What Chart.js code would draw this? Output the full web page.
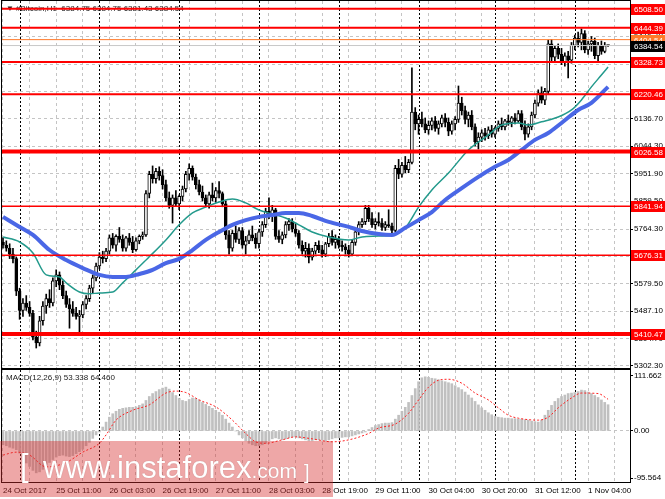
<!DOCTYPE html>
<html>
<head>
<meta charset="utf-8">
<script src="https://cdn.jsdelivr.net/npm/chart.js@4.4.0/dist/chart.umd.min.js"></script>
<style>
  body { margin: 0; background: #fff; width: 665px; height: 499px; overflow: hidden; position: relative; }
  #main { position: absolute; left: 0; top: 0; }
  #macd { position: absolute; left: 0; top: 369px; }
  #wm { position: absolute; left: 0; top: 441px; width: 333px; height: 56px; background: rgba(215, 45, 45, 0.42); }
  #wm span { position: absolute; color: #fff; font-family: 'Liberation Sans', sans-serif; line-height: 1; white-space: nowrap; text-shadow: 0 0 1px rgba(120, 50, 50, 0.45); }
  #wm .w { left: 43px; top: 11px; font-size: 31px; }
  #wm .w small { font-size: 21px; }
  #wm .b1 { left: 20px; top: 9px; font-size: 31px; }
  #wm .b2 { left: 304px; top: 21px; font-size: 20px; }
</style>
</head>
<body>
<canvas id="main" width="665" height="370"></canvas>
<canvas id="macd" width="665" height="130"></canvas>
<div id="wm"><span class="b1">[</span><span class="w">www.instaforex<small>.com</small></span><span class="b2">]</span></div>
<script>
// Bitcoin H1 candles, 24 Oct 2017 19:00 -> 1 Nov 2017
const opens = [
  5720,5710,5700,5680,5665,5555,5490,5515,5500,5480,
  5400,5380,5455,5505,5530,5515,5590,5610,5575,5540,
  5510,5495,5480,5470,5475,5510,5530,5565,5600,5640,
  5670,5665,5690,5735,5710,5740,5730,5700,5735,5720,
  5695,5725,5740,5745,5885,5950,5935,5960,5945,5915,
  5870,5845,5870,5850,5875,5900,5950,5970,5940,5915,
  5890,5870,5850,5880,5870,5895,5885,5850,5745,5700,
  5750,5730,5760,5710,5725,5745,5735,5715,5755,5780,
  5825,5815,5830,5740,5730,5745,5780,5790,5765,5750,
  5710,5690,5700,5670,5690,5710,5695,5680,5715,5740,
  5720,5730,5710,5705,5695,5680,5720,5755,5780,5790,
  5835,5800,5780,5790,5785,5770,5780,5775,5760,5970,
  5950,5980,5965,5990,6160,6120,6135,6120,6100,6115,
  6130,6105,6120,6140,6125,6095,6120,6135,6190,6165,
  6135,6150,6110,6060,6075,6090,6080,6100,6085,6105,
  6120,6110,6130,6125,6140,6130,6155,6110,6085,6110,
  6150,6190,6225,6200,6230,6390,6345,6375,6355,6330,
  6350,6335,6385,6410,6395,6425,6370,6390,6400,6350,
  6385,6365,6384.75
];
const highs = [
  5735,5725,5715,5700,5670,5565,5530,5540,5520,5490,
  5420,5470,5520,5545,5560,5600,5627,5620,5590,5555,
  5530,5520,5500,5490,5520,5540,5575,5610,5650,5685,
  5690,5700,5745,5750,5745,5770,5745,5740,5750,5740,
  5735,5745,5755,5895,5960,5978,5970,5975,5965,5930,
  5890,5880,5895,5880,5910,5960,5985,5978,5950,5930,
  5910,5880,5890,5920,5905,5925,5890,5860,5760,5760,
  5775,5770,5770,5740,5760,5775,5750,5765,5790,5835,
  5870,5845,5835,5760,5755,5790,5800,5800,5785,5760,
  5725,5720,5715,5700,5720,5725,5710,5720,5750,5760,
  5745,5740,5725,5715,5710,5730,5765,5790,5800,5845,
  5845,5820,5800,5820,5800,5790,5830,5785,5980,6000,
  5990,6010,6000,6309,6175,6150,6160,6140,6130,6140,
  6145,6130,6150,6155,6140,6130,6145,6248,6210,6180,
  6160,6165,6120,6090,6100,6105,6110,6115,6110,6130,
  6140,6135,6150,6145,6155,6165,6165,6130,6120,6160,
  6200,6235,6245,6240,6403,6405,6385,6390,6375,6360,
  6365,6395,6420,6430,6441,6435,6400,6415,6410,6395,
  6400,6395,6384.75
];
const lows = [
  5700,5690,5665,5650,5540,5460,5470,5490,5470,5390,
  5363,5370,5440,5480,5500,5505,5570,5560,5530,5500,
  5430,5470,5460,5417,5465,5495,5520,5550,5590,5630,
  5650,5655,5680,5700,5690,5720,5690,5690,5710,5685,
  5690,5715,5730,5740,5870,5920,5920,5930,5900,5860,
  5835,5785,5840,5830,5860,5890,5930,5930,5900,5880,
  5860,5840,5835,5860,5855,5870,5840,5730,5680,5690,
  5720,5715,5700,5680,5715,5725,5700,5700,5740,5770,
  5800,5790,5730,5720,5715,5735,5760,5755,5740,5700,
  5680,5670,5650,5660,5680,5685,5670,5672,5705,5710,
  5700,5700,5690,5680,5670,5675,5710,5745,5770,5780,
  5790,5770,5765,5775,5760,5760,5770,5750,5755,5935,
  5940,5955,5955,5985,6100,6085,6110,6090,6085,6100,
  6095,6085,6110,6110,6080,6085,6100,6125,6150,6120,
  6110,6100,6045,6035,6060,6065,6070,6075,6075,6095,
  6100,6100,6115,6110,6120,6125,6100,6066,6075,6100,
  6140,6180,6190,6185,6220,6330,6330,6340,6320,6315,
  6275,6325,6370,6380,6370,6360,6355,6365,6340,6330,
  6355,6360,6381.43
];
const closes = [
  5710,5700,5680,5665,5555,5490,5515,5500,5480,5400,
  5380,5455,5505,5530,5515,5590,5610,5575,5540,5510,
  5495,5480,5470,5475,5510,5530,5565,5600,5640,5670,
  5665,5690,5735,5710,5740,5730,5700,5735,5720,5695,
  5725,5740,5745,5885,5950,5935,5960,5945,5915,5870,
  5845,5870,5850,5875,5900,5950,5970,5940,5915,5890,
  5870,5850,5880,5870,5895,5885,5850,5745,5700,5750,
  5730,5760,5710,5725,5745,5735,5715,5755,5780,5825,
  5815,5830,5740,5730,5745,5780,5790,5765,5750,5710,
  5690,5700,5670,5690,5710,5695,5680,5715,5740,5720,
  5730,5710,5705,5695,5680,5720,5755,5780,5790,5835,
  5800,5780,5790,5785,5770,5780,5775,5760,5970,5950,
  5980,5965,5990,6160,6120,6135,6120,6100,6115,6130,
  6105,6120,6140,6125,6095,6120,6135,6190,6165,6135,
  6150,6110,6060,6075,6090,6080,6100,6085,6105,6120,
  6110,6130,6125,6140,6130,6155,6110,6085,6110,6150,
  6190,6225,6200,6230,6390,6345,6375,6355,6330,6350,
  6335,6385,6410,6395,6425,6370,6390,6400,6350,6385,
  6365,6384.75,6384.54
];

// moving averages, read at sample candles
const fastMaIdx = [0,5,9,13,17,19,23,26,29,33,36,40,44,49,53,57,61,65,69,73,77,81,85,89,93,98,104,108,113,117,121,125,129,134,140,146,150,155,158,162,167,171,174,177,180,182];
const fastMaVal = [5738,5721,5684,5610,5603,5583,5552,5546,5549,5552,5583,5627,5671,5728,5779,5819,5839,5856,5866,5853,5829,5816,5802,5779,5755,5738,5728,5738,5741,5745,5769,5839,5897,5954,6032,6083,6116,6123,6116,6127,6143,6167,6201,6245,6285,6312];
const slowMaIdx = [0,5,9,14,19,24,29,33,37,41,45,49,53,57,61,65,69,73,77,81,85,89,93,98,104,108,113,117,121,125,129,133,138,143,148,152,156,160,164,168,173,177,182];
const slowMaVal = [5806,5772,5745,5694,5660,5633,5610,5603,5603,5613,5627,5650,5664,5694,5728,5755,5779,5795,5806,5812,5819,5819,5809,5789,5772,5758,5748,5745,5769,5795,5822,5863,5903,5941,5975,5998,6032,6066,6089,6123,6167,6191,6245];

// MACD(12,26,9) main (histogram) per candle and signal line samples
const macdMain = [
  -28,-30,-33,-35,-38,-45,-55,-65,-72,-80,
  -85,-83,-78,-70,-64,-58,-53,-50,-49,-51,
  -52,-50,-46,-42,-37,-30,-23,-15,-8,-2,
  8,18,28,35,40,44,46,47,48,48,
  49,52,55,62,70,76,80,84,87,89,
  85,78,72,66,62,60,64,67,66,63,
  58,54,50,46,42,38,32,24,16,8,
  0,-8,-14,-20,-25,-28,-30,-30,-28,-25,
  -20,-16,-14,-16,-18,-16,-14,-12,-12,-14,
  -16,-18,-20,-20,-18,-18,-19,-20,-18,-16,
  -14,-14,-13,-12,-12,-10,-8,-6,-4,-2,
  3,7,11,13,15,16,16,17,24,32,
  40,48,58,72,86,100,108,110,109,107,
  106,104,102,100,98,96,92,88,84,79,
  73,67,60,53,47,42,37,33,30,28,
  27,26,26,25,25,24,24,23,22,20,
  19,18,22,32,42,52,60,66,70,73,
  76,77,78,80,83,82,79,76,72,68,
  63,58,53.338
];
const signalIdx = [0,4,8,13,19,24,29,31,34,39,44,49,52,55,59,64,69,73,76,79,84,88,93,99,104,110,113,118,122,125,128,131,134,138,142,146,149,152,155,161,164,167,171,174,179,182];
const signalVal = [-49,-43,-49,-73,-64,-43,-25,-8,22,42,53,77,81,78,63,49,22,-5,-22,-25,-18,-12,-16,-22,-18,-5,6,14,36,63,89,103,105,97,77,63,47,32,26,22,28,47,67,77,76,64.46];

// horizontal levels and quotes
const levels = [6508.50, 6444.39, 6328.73, 6220.46, 6026.58, 5841.94, 5676.31, 5410.47];
const levelWidths = [2, 2, 2, 2, 4, 1.5, 1.5, 4];
const askPrice = 6404.54;
const lastPrice = 6384.54;
const priceTicks = [5302.30, 5394.70, 5487.10, 5579.50, 5671.90, 5764.30, 5859.50, 5951.90, 6044.30, 6136.70, 6229.10, 6321.50, 6416.70, 6509.10];
const macdTicks = [111.662, 0, -95.564];
const macdTickText = ['111.662', '0.00', '-95.564'];

// time axis
const gridIdx = [0,8,16,24,32,40,48,56,64,72,80,88,96,104,112,120,128,136,144,152,160,168,176,184];
const timeLabels = ['24 Oct 2017', '25 Oct 11:00', '26 Oct 03:00', '26 Oct 19:00', '27 Oct 11:00', '28 Oct 03:00',
                    '28 Oct 19:00', '29 Oct 11:00', '30 Oct 04:00', '30 Oct 20:00', '31 Oct 12:00', '1 Nov 04:00'];
const daySeps = [5, 29, 53, 77, 101, 125, 148, 172];

const titleText = '#Bitcoin,H1  6384.75 6384.75 6381.43 6384.54';
const macdTitle = 'MACD(12,26,9) 53.338 64.460';

const FONT = "'Liberation Sans', sans-serif";
Chart.defaults.font.family = FONT;
Chart.defaults.font.size = 8;

const idx = closes.map((_, i) => i);
const xMin = -0.3, xMax = 188.6;

function drawDaySeps(chart) {
  const { ctx, chartArea: a, scales: { x } } = chart;
  ctx.save();
  ctx.strokeStyle = '#000';
  ctx.lineWidth = 1;
  ctx.setLineDash([2, 2]);
  daySeps.forEach(d => {
    const px = Math.round(x.getPixelForValue(d)) + 0.5;
    ctx.beginPath();
    ctx.moveTo(px, a.top);
    ctx.lineTo(px, a.bottom);
    ctx.stroke();
  });
  ctx.restore();
}

function hLine(ctx, a, py, color, width) {
  ctx.save();
  ctx.strokeStyle = color;
  ctx.lineWidth = width;
  ctx.beginPath();
  ctx.moveTo(a.left, py);
  ctx.lineTo(a.right, py);
  ctx.stroke();
  ctx.restore();
}

function axisBox(ctx, a, py, text, fill) {
  const y = Math.round(py);
  ctx.save();
  ctx.fillStyle = fill;
  ctx.fillRect(a.right + 1, y - 5, 34, 11);
  ctx.fillStyle = '#fff';
  ctx.font = '8px ' + FONT;
  ctx.textBaseline = 'middle';
  ctx.textAlign = 'left';
  ctx.fillText(text, a.right + 4, y + 0.5);
  ctx.restore();
}

function frame(ctx, a) {
  ctx.save();
  ctx.strokeStyle = '#000';
  ctx.lineWidth = 1;
  ctx.strokeRect(a.left - 0.5, a.top - 0.5, a.right - a.left + 1, a.bottom - a.top + 1);
  ctx.restore();
}

// drop the label overflow padding Chart.js adds around the axes
function noAxisPadding(s) {
  s.paddingTop = 0; s.paddingBottom = 0; s.paddingLeft = 0; s.paddingRight = 0;
}

const mainDecor = {
  id: 'mainDecor',
  beforeDatasetsDraw(chart) { drawDaySeps(chart); },
  afterDatasetsDraw(chart) {
    const { ctx, chartArea: a, scales: { y } } = chart;
    ctx.save();
    ctx.fillStyle = '#222';
    ctx.font = '8px ' + FONT;
    ctx.textBaseline = 'middle';
    ctx.fillText('\u25BC', a.left + 4, 9);
    ctx.fillText(titleText, a.left + 14, 9);
    ctx.restore();
    hLine(ctx, a, y.getPixelForValue(lastPrice), '#c8c8c8', 1);
    hLine(ctx, a, y.getPixelForValue(askPrice), '#ff7a2a', 1);
    levels.forEach((v, k) => hLine(ctx, a, y.getPixelForValue(v), '#ff0000', levelWidths[k]));
  },
  afterDraw(chart) {
    const { ctx, chartArea: a, scales: { y } } = chart;
    frame(ctx, a);
    levels.forEach(v => axisBox(ctx, a, y.getPixelForValue(v), v.toFixed(2), '#ff0000'));
    axisBox(ctx, a, y.getPixelForValue(askPrice), askPrice.toFixed(2), '#ff7a2a');
    axisBox(ctx, a, y.getPixelForValue(lastPrice), lastPrice.toFixed(2), '#000');
  }
};

const macdDecor = {
  id: 'macdDecor',
  beforeDatasetsDraw(chart) { drawDaySeps(chart); },
  afterDraw(chart) {
    const { ctx, chartArea: a } = chart;
    frame(ctx, a);
    ctx.save();
    ctx.fillStyle = '#222';
    ctx.font = '8px ' + FONT;
    ctx.textBaseline = 'middle';
    ctx.fillText(macdTitle, a.left + 4, a.top + 8);
    ctx.restore();
  }
};

const timeAxis = (showLabels) => ({
  type: 'linear', min: xMin, max: xMax, offset: false,
  afterBuildTicks: s => { s.ticks = gridIdx.map(v => ({ value: v })); },
  ticks: {
    display: showLabels, autoSkip: false, maxRotation: 0, align: 'start', padding: 4, color: '#000',
    font: { size: 8 },
    callback: v => (v % 16 === 0 ? timeLabels[v / 16] : '')
  },
  grid: { color: '#c4c4c4', drawTicks: false, offset: false },
  border: { display: false, dash: [3, 3] },
  afterFit: s => { s.height = showLabels ? 17 : 0; noAxisPadding(s); }
});

new Chart(document.getElementById('main'), {
  type: 'bar',
  data: {
    datasets: [
      { type: 'line', label: 'MA slow', data: slowMaIdx.map((x, k) => ({ x, y: slowMaVal[k] })),
        borderColor: '#4a67e6', borderWidth: 4, pointRadius: 0, cubicInterpolationMode: 'monotone', order: 0 },
      { type: 'line', label: 'MA fast', data: fastMaIdx.map((x, k) => ({ x, y: fastMaVal[k] })),
        borderColor: '#239a8c', borderWidth: 1.5, pointRadius: 0, cubicInterpolationMode: 'monotone', order: 1 },
      { label: 'body', data: idx.map(i => ({ x: i, y: [opens[i], closes[i]] })),
        backgroundColor: idx.map(i => (closes[i] >= opens[i] ? '#fff' : '#000')),
        borderColor: '#000', borderWidth: 1, borderSkipped: false, minBarLength: 1,
        barThickness: 3, grouped: false, order: 2 },
      { label: 'wick', data: idx.map(i => ({ x: i, y: [lows[i], highs[i]] })),
        backgroundColor: '#000', borderWidth: 0, barThickness: 1, grouped: false, order: 3 }
    ]
  },
  options: {
    responsive: false, animation: false, devicePixelRatio: 1, events: [],
    layout: { autoPadding: false, padding: { left: 2, top: 1, right: 0, bottom: 2 } },
    plugins: { legend: { display: false }, tooltip: { enabled: false } },
    scales: {
      x: timeAxis(false),
      y: {
        position: 'right', min: 5295.5, max: 6535,
        afterBuildTicks: s => { s.ticks = priceTicks.map(v => ({ value: v })); },
        ticks: { color: '#000', autoSkip: false, padding: 1, font: { size: 8 }, callback: v => v.toFixed(2) },
        grid: { color: '#c4c4c4', tickColor: '#000', tickLength: 3 },
        border: { display: true, color: '#000', dash: [3, 3] },
        afterFit: s => { s.width = 35; noAxisPadding(s); }
      }
    }
  },
  plugins: [mainDecor]
});

new Chart(document.getElementById('macd'), {
  type: 'bar',
  data: {
    datasets: [
      { type: 'line', label: 'Signal', data: signalIdx.map((x, k) => ({ x, y: signalVal[k] })),
        borderColor: '#ff2020', borderWidth: 1, borderDash: [2, 2], pointRadius: 0,
        cubicInterpolationMode: 'monotone', order: 0 },
      { label: 'MACD', data: idx.map(i => ({ x: i, y: macdMain[i] })),
        backgroundColor: '#c0c0c0', barThickness: 2, grouped: false, order: 1 }
    ]
  },
  options: {
    responsive: false, animation: false, devicePixelRatio: 1, events: [],
    layout: { autoPadding: false, padding: { left: 2, top: 1, right: 0, bottom: 0 } },
    plugins: { legend: { display: false }, tooltip: { enabled: false } },
    scales: {
      x: timeAxis(true),
      y: {
        position: 'right', min: -103.6, max: 123.8,
        afterBuildTicks: s => { s.ticks = macdTicks.map(v => ({ value: v })); },
        ticks: { color: '#000', autoSkip: false, padding: 1, font: { size: 8 }, callback: (v, i) => macdTickText[i] },
        grid: { color: c => (c.tick && c.tick.value === 0 ? '#c4c4c4' : 'rgba(0,0,0,0)'), tickColor: '#000', tickLength: 3 },
        border: { display: true, color: '#000', dash: [3, 3] },
        afterFit: s => { s.width = 35; noAxisPadding(s); }
      }
    }
  },
  plugins: [macdDecor]
});
</script>
</body>
</html>
